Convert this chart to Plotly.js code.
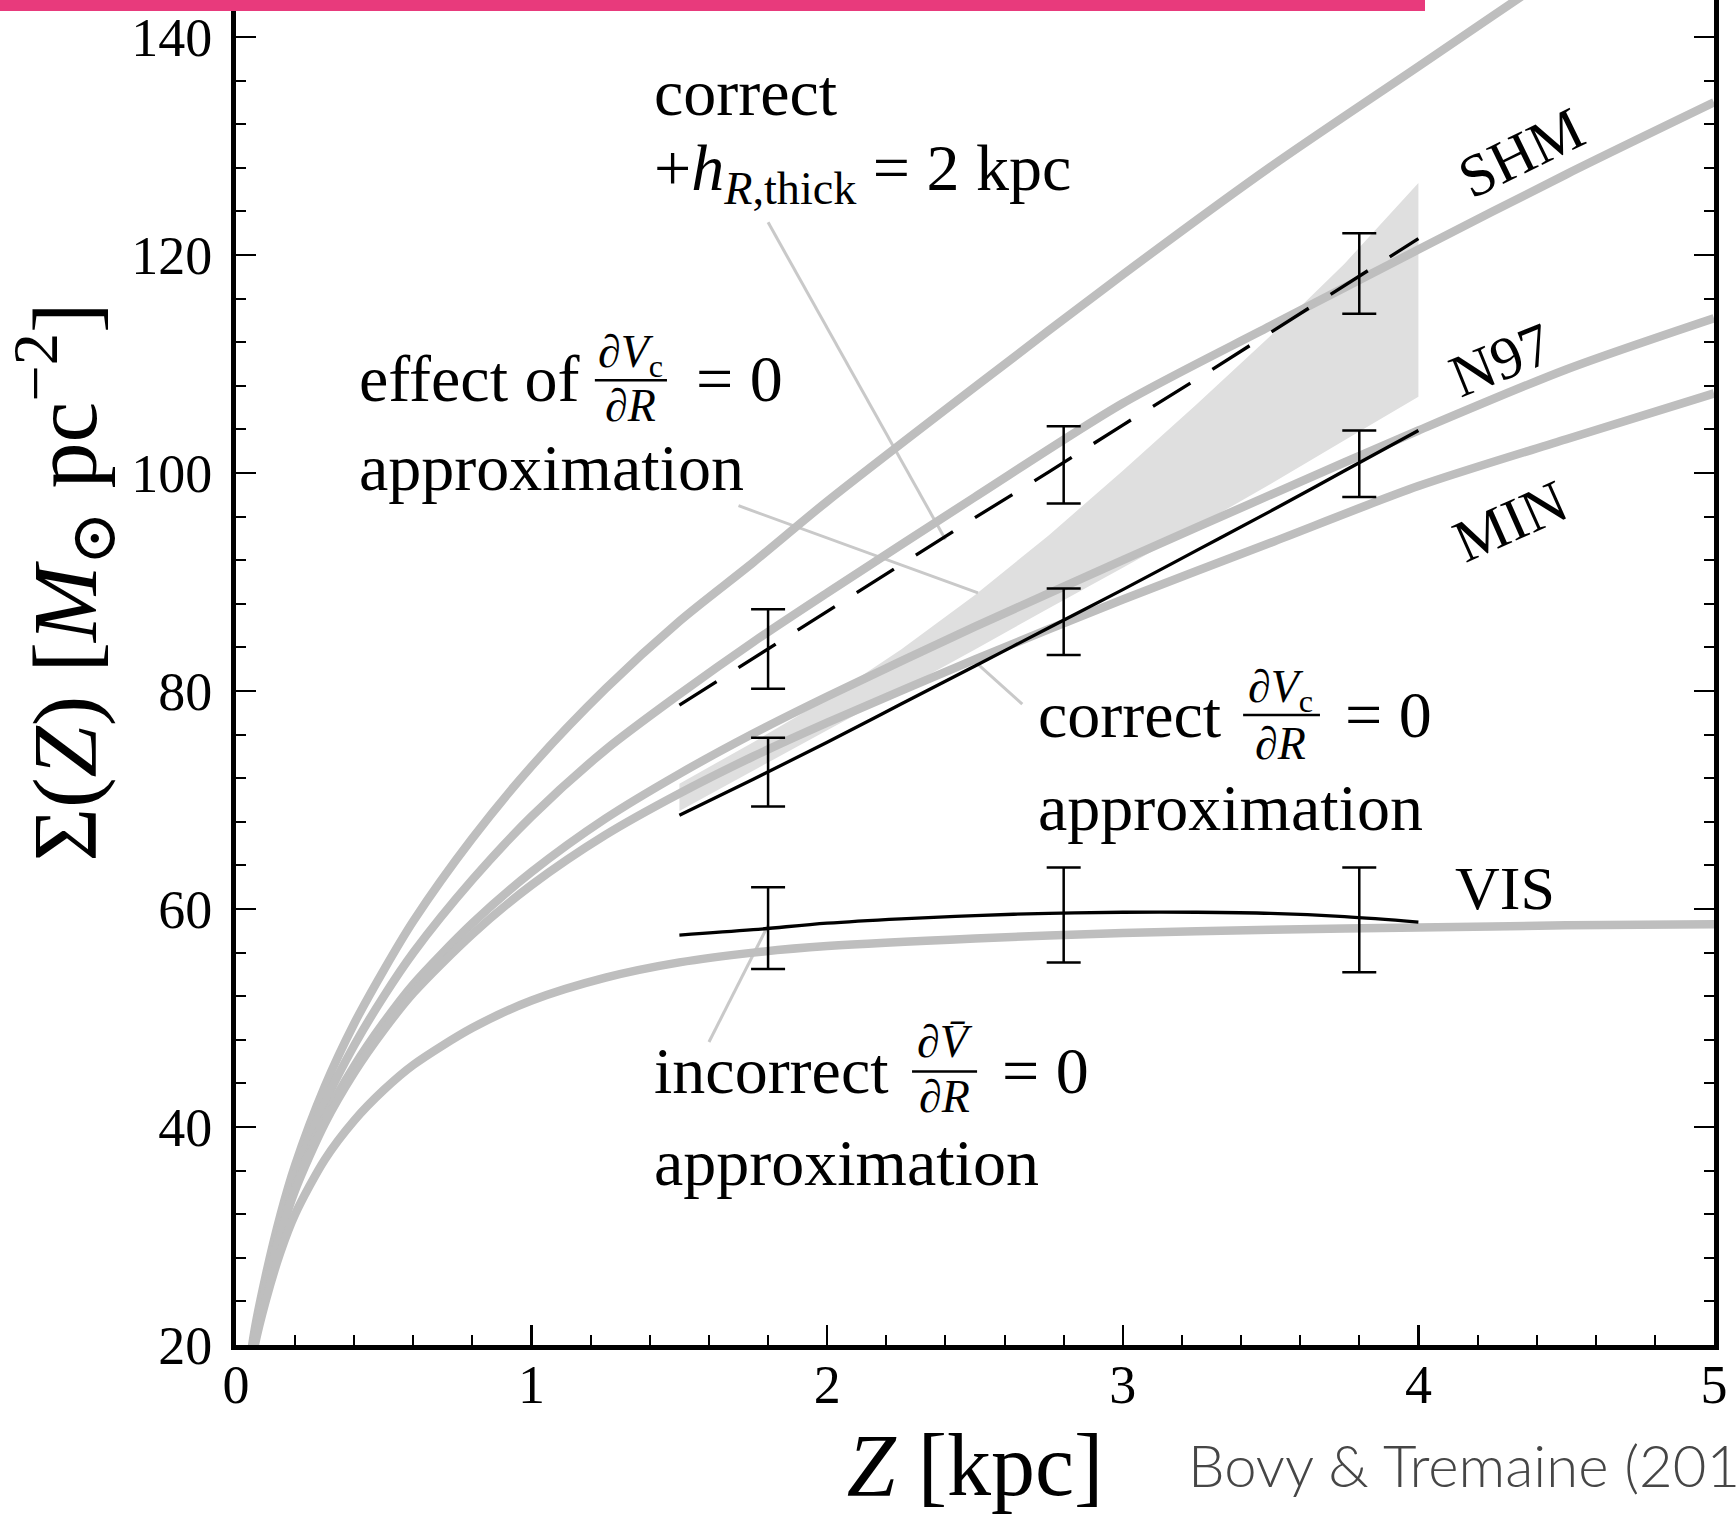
<!DOCTYPE html>
<html>
<head>
<meta charset="utf-8">
<script src="https://cdn.plot.ly/plotly-3.0.1.min.js"></script>
<style>
  html, body { margin: 0; padding: 0; background: #fff; overflow: hidden; }
  #wrap { position: relative; width: 1736px; height: 1514px; overflow: hidden; }
  #chart { width: 1736px; height: 1695px; margin-top: -181px; }
  #band { position: absolute; left: 0; top: 0; width: 1425px; height: 11px; background: #e83a7c; z-index: 5; }
</style>
</head>
<body>
<div id="wrap">
  <div id="chart"></div>
  <div id="band"></div>
</div>
<script>
// Surface density Sigma(Z) [Msun pc^-2] versus height Z [kpc]
const zGrid = [0.03, 0.06, 0.1, 0.15, 0.2, 0.3, 0.4, 0.5, 0.6, 0.8, 1.0, 1.25, 1.5, 1.75, 2.0, 2.5, 3.0, 3.5, 4.0, 4.5, 5.0];
const sigmaTop = [14.7, 20.9, 26.3, 31.9, 36.5, 43.7, 49.5, 54.4, 58.9, 66.5, 73.1, 80.2, 86.4, 91.8, 97.4, 107.9, 118.2, 128.1, 137.3, 146.5, 155.6];
const sigmaSHM = [14.5, 20.5, 25.8, 31.1, 35.5, 42.2, 47.5, 52.0, 56.0, 62.7, 68.5, 74.6, 79.7, 84.5, 89.0, 97.8, 106.4, 113.5, 120.5, 127.4, 134.0];
const sigmaN97 = [14.4, 20.3, 25.3, 30.4, 34.5, 40.8, 45.6, 49.6, 53.1, 58.7, 63.4, 68.3, 72.4, 76.1, 79.5, 85.9, 92.0, 98.0, 103.9, 109.5, 114.2];
const sigmaMIN = [14.3, 20.2, 25.1, 30.1, 34.2, 40.3, 45.0, 48.9, 52.3, 57.7, 62.2, 66.8, 70.6, 74.0, 77.1, 82.9, 88.4, 93.6, 98.8, 103.1, 107.3];
const sigmaVIS = [14.0, 19.5, 24.0, 28.5, 32.0, 37.0, 40.6, 43.4, 45.7, 49.1, 51.6, 53.7, 55.1, 56.0, 56.6, 57.3, 57.8, 58.1, 58.3, 58.5, 58.6];

// Measured curves, 1.5 < Z < 4 kpc
const zFit = [1.5, 1.75, 2.0, 2.25, 2.5, 2.75, 3.0, 3.25, 3.5, 3.75, 4.0];
const fitCorrect = [68.6, 71.9, 75.3, 78.8, 82.3, 85.8, 89.3, 92.9, 96.5, 100.2, 103.9];
const fitThick = [78.7, 83.0, 87.3, 91.6, 95.9, 100.1, 104.4, 108.6, 112.9, 117.2, 121.5];
const fitIncorrect = [57.6, 58.1, 58.7, 59.1, 59.4, 59.6, 59.7, 59.7, 59.6, 59.3, 58.8];

// Effect of the dVc/dR = 0 approximation (shaded band)
const bandUpper = [71.5, 75.3, 79.3, 83.8, 88.8, 94.3, 100.2, 106.3, 112.6, 119.2, 126.6];
const bandLower = [69.0, 72.7, 76.4, 80.1, 83.8, 87.6, 91.3, 95.1, 99.0, 103.0, 107.0];

// Error bars (top and bottom of each bar)
const barZ = [1.8, 2.8, 3.8];
const thickTop = [87.5, 104.3, 122.0], thickBottom = [80.2, 97.2, 114.6];
const correctTop = [75.7, 89.4, 103.9], correctBottom = [69.4, 83.3, 97.8];
const incorrectTop = [62.0, 63.8, 63.8], incorrectBottom = [54.5, 55.1, 54.2];

// Label pointer lines [z0, s0, z1, s1]
const leaderLines = [
  [1.80, 123.0, 2.40, 93.9],
  [1.70, 97.0, 2.51, 89.0],
  [2.50, 82.7, 2.66, 78.8],
  [1.60, 47.8, 1.80, 58.5]
];

const serif = 'Liberation Serif, "DejaVu Serif", serif';
const grey = '#bebebe';

const traces = [];

// shaded band
traces.push({
  x: zFit.concat(zFit.slice().reverse()),
  y: bandUpper.concat(bandLower.slice().reverse()),
  type: 'scatter', mode: 'lines', fill: 'toself',
  fillcolor: '#dfdfdf', line: {width: 0, color: 'rgba(0,0,0,0)'},
  hoverinfo: 'skip', showlegend: false
});

// pointer lines
leaderLines.forEach(function (l) {
  traces.push({
    x: [l[0], l[2]], y: [l[1], l[3]], type: 'scatter', mode: 'lines',
    line: {color: '#c9c9c9', width: 3}, hoverinfo: 'skip', showlegend: false
  });
});

// model curves
[sigmaTop, sigmaSHM, sigmaN97, sigmaMIN, sigmaVIS].forEach(function (s) {
  traces.push({
    x: zGrid, y: s, type: 'scatter', mode: 'lines',
    line: {color: grey, width: 8.5, shape: 'spline', smoothing: 0.8},
    hoverinfo: 'skip', showlegend: false
  });
});

// measured curves
traces.push({x: zFit, y: fitThick, type: 'scatter', mode: 'lines',
  line: {color: '#000', width: 3.3, dash: '44px,26px'}, showlegend: false});
traces.push({x: zFit, y: fitCorrect, type: 'scatter', mode: 'lines',
  line: {color: '#000', width: 3.3, shape: 'spline'}, showlegend: false});
traces.push({x: zFit, y: fitIncorrect, type: 'scatter', mode: 'lines',
  line: {color: '#000', width: 3.3, shape: 'spline'}, showlegend: false});

function errorTrace(top, bottom) {
  const mid = top.map(function (t, i) { return (t + bottom[i]) / 2; });
  const half = top.map(function (t, i) { return (t - bottom[i]) / 2; });
  return {
    x: barZ, y: mid, type: 'scatter', mode: 'markers',
    marker: {size: 1, color: 'rgba(0,0,0,0)'},
    error_y: {type: 'data', array: half, visible: true, color: '#000', thickness: 2.5, width: 17},
    showlegend: false, hoverinfo: 'skip'
  };
}
traces.push(errorTrace(thickTop, thickBottom));
traces.push(errorTrace(correctTop, correctBottom));
traces.push(errorTrace(incorrectTop, incorrectBottom));

function label(text, x, y, size, extra) {
  return Object.assign({
    text: text, x: x, y: y, xref: 'x', yref: 'y', showarrow: false,
    xanchor: 'left', yanchor: 'middle',
    font: {family: serif, size: size, color: '#000'}
  }, extra || {});
}

const big = 66, small = 46;
const annotations = [
  label('correct', 1.407, 134.9, big),
  label('+<i>h</i><sub><i>R</i>,thick</sub> = 2 kpc', 1.407, 127.6, big),

  label('effect of', 0.409, 108.7, big),
  label('∂<i>V</i><sub>c</sub>', 1.336, 110.8, small, {xanchor: 'center'}),
  label('∂<i>R</i>', 1.336, 106.2, small, {xanchor: 'center'}),
  label('= 0', 1.549, 108.7, big),
  label('approximation', 0.409, 100.5, big),

  label('correct', 2.706, 77.8, big),
  label('∂<i>V</i><sub>c</sub>', 3.535, 80.1, small, {xanchor: 'center'}),
  label('∂<i>R</i>', 3.535, 75.2, small, {xanchor: 'center'}),
  label('= 0', 3.745, 77.8, big),
  label('approximation', 2.706, 69.3, big),

  label('incorrect', 1.407, 45.2, big),
  label('∂<i>V̄</i>', 2.398, 47.8, small, {xanchor: 'center'}),
  label('∂<i>R</i>', 2.398, 42.8, small, {xanchor: 'center'}),
  label('= 0', 2.585, 45.2, big),
  label('approximation', 1.407, 36.7, big),

  label('VIS', 4.117, 61.9, 62),
  label('SHM', 4.347, 129.4, 60, {xanchor: 'center', textangle: -26}),
  label('N97', 4.279, 110.4, 60, {xanchor: 'center', textangle: -22}),
  label('MIN', 4.313, 95.6, 60, {xanchor: 'center', textangle: -24}),

  {text: 'Bovy & Tremaine (2012)', xref: 'paper', yref: 'paper', x: 0.6425, y: -0.0786,
   xanchor: 'left', yanchor: 'middle', showarrow: false,
   font: {family: 'Lato, "Open Sans", sans-serif', size: 58, color: '#464646', weight: 300}}
];

// fraction bars
const fractionBars = [[1.214, 1.458, 108.5], [3.407, 3.667, 77.8], [2.287, 2.507, 45.1]];
const shapes = fractionBars.map(function (b) {
  return {type: 'line', xref: 'x', yref: 'y', x0: b[0], x1: b[1], y0: b[2], y1: b[2],
          line: {color: '#000', width: 2.5}};
});

const axisCommon = {
  ticks: 'inside', ticklen: 20, tickwidth: 2.5, tickcolor: '#000',
  showline: true, linewidth: 5, linecolor: '#000', mirror: 'ticks',
  showgrid: false, zeroline: false,
  tickfont: {family: serif, size: 54, color: '#000'}
};

const layout = {
  width: 1736, height: 1695,
  margin: {l: 236, r: 22, t: 0, b: 169},
  paper_bgcolor: '#fff', plot_bgcolor: '#fff',
  showlegend: false,
  xaxis: Object.assign({}, axisCommon, {
    range: [0, 5], tick0: 0, dtick: 1, ticklabelstandoff: -12,
    minor: {ticks: 'inside', ticklen: 10, tickwidth: 2, tickcolor: '#000', dtick: 0.2, showgrid: false},
    title: {text: '<i>Z</i> [kpc]', font: {family: serif, size: 88, color: '#000'}, standoff: 40}
  }),
  yaxis: Object.assign({}, axisCommon, {
    range: [20, 160], tick0: 20, dtick: 20, ticklabelstandoff: 8,
    minor: {ticks: 'inside', ticklen: 10, tickwidth: 2, tickcolor: '#000', dtick: 4, showgrid: false},
    title: {text: 'Σ(<i>Z</i>) [<i>M</i><sub>⊙</sub> pc<sup>−2</sup>]', font: {family: serif, size: 92, color: '#000'}, standoff: 26}
  }),
  annotations: annotations,
  shapes: shapes
};

Plotly.newPlot('chart', traces, layout, {staticPlot: true, displayModeBar: false});
</script>
</body>
</html>
